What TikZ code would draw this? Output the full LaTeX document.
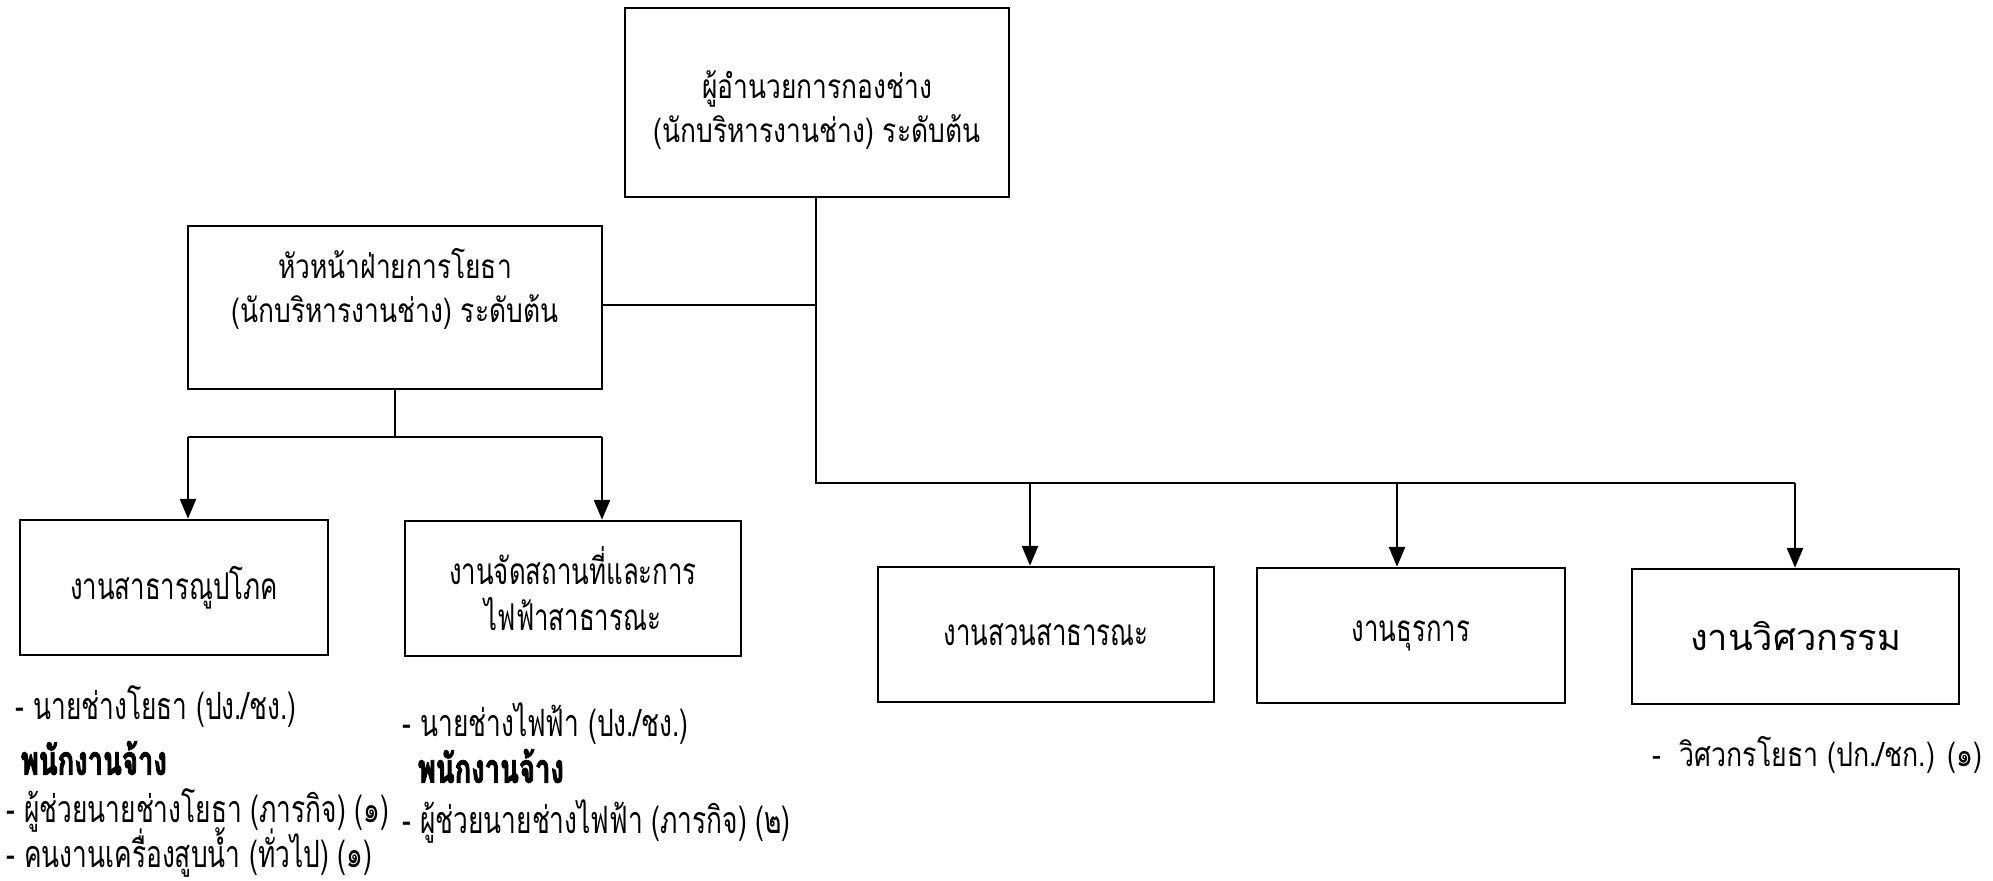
\documentclass[tikz,border=0pt]{standalone}
\usepackage{fontspec}
\usetikzlibrary{arrows.meta}
\newfontfamily\thaifont[Script=Thai]{Loma}
\newfontfamily\thaimid[Script=Thai,FakeStretch=0.79]{Loma}
\newfontfamily\thaiengnote[Script=Thai,FakeStretch=0.8]{Loma}
\newfontfamily\thainarrow[Script=Thai,FakeStretch=0.7]{Loma}
\newfontfamily\thaibold[Script=Thai,FakeStretch=0.68,FakeBold=2]{Loma}
\tikzset{
  box/.style={draw, line width=0.7pt, inner sep=0pt},
  conn/.style={line width=0.7pt},
  arr/.style={line width=0.8pt, -{Triangle[length=2mm,width=1.6mm]}},
  boxtext/.style={align=center, font=\thaimid\fontsize{9.5}{12.5}\selectfont},
  narrowtext/.style={align=center, font=\thainarrow\fontsize{10.5}{13}\selectfont},
  listtext/.style={anchor=west, inner sep=0pt, font=\thainarrow\fontsize{10.7}{12}\selectfont},
  boldtext/.style={anchor=west, inner sep=0pt, font=\thaibold\bfseries\fontsize{11.5}{12}\selectfont},
}
\begin{document}
\begin{tikzpicture}[x=1mm,y=-1mm]
\useasboundingbox (0,0) rectangle (199.3,88.0);
% boxes
\node[box, minimum width=38.4mm, minimum height=18.9mm] (top) at (81.7,10.25) {};
\node[boxtext] (toptext) at (81.7,11.0) {ผู้อำนวยการกองช่าง\\(นักบริหารงานช่าง) ระดับต้น};
\node[box, minimum width=41.4mm, minimum height=16.3mm] (head) at (39.5,30.75) {};
\node[boxtext] (headtext) at (39.5,28.9) {หัวหน้าฝ่ายการโยธา\\(นักบริหารงานช่าง) ระดับต้น};
\node[box, minimum width=30.8mm, minimum height=13.5mm, narrowtext] (util) at (17.4,58.75) {งานสาธารณูปโภค};
\node[box, minimum width=33.6mm, minimum height=13.5mm, narrowtext] (elec) at (57.3,58.85) {งานจัดสถานที่และการ\\ไฟฟ้าสาธารณะ};
\node[box, minimum width=33.6mm, minimum height=13.5mm, narrowtext] (park) at (104.6,63.45) {งานสวนสาธารณะ};
\node[box, minimum width=30.8mm, minimum height=13.5mm, narrowtext] (admin) at (141.1,63.55) {งานธุรการ};
\node[box, minimum width=32.7mm, minimum height=13.5mm, font=\thaifont\fontsize{10.3}{13}\selectfont] (eng) at (179.55,63.65) {งานวิศวกรรม};
% junction coordinates
\coordinate (hj) at (81.6,30.5);
\coordinate (mb) at (81.6,48.3);
\coordinate (b1) at (103.0,48.3);
\coordinate (b2) at (139.7,48.3);
\coordinate (b3) at (179.5,48.3);
\coordinate (hb) at (39.5,43.7);
\coordinate (l1) at (18.8,43.7);
\coordinate (l2) at (60.2,43.7);
% connectors
\draw[conn] (top.south -| hj) -- (mb) -- (b3);
\draw[conn] (head.east |- hj) -- (hj);
\draw[arr] (b1) -- (b1 |- park.north);
\draw[arr] (b2) -- (b2 |- admin.north);
\draw[arr] (b3) -- (b3 |- eng.north);
\draw[conn] (head.south -| hb) -- (hb);
\draw[conn] (l1) -- (l2);
\draw[arr] (l1) -- (l1 |- util.north);
\draw[arr] (l2) -- (l2 |- elec.north);
% lists
\node[listtext] (a1) at (1.5,70.7) {- นายช่างโยธา (ปง./ชง.)};
\node[boldtext] (a2) at (2.0,75.8) {พนักงานจ้าง};
\node[listtext] (a3) at (0.6,81.0) {- ผู้ช่วยนายช่างโยธา (ภารกิจ) (๑)};
\node[listtext] (a4) at (0.6,85.2) {- คนงานเครื่องสูบน้ำ (ทั่วไป) (๑)};
\node[listtext] (b1t) at (40.2,72.4) {- นายช่างไฟฟ้า (ปง./ชง.)};
\node[boldtext] (b2t) at (41.7,76.6) {พนักงานจ้าง};
\node[listtext] (b3t) at (40.2,82.1) {- ผู้ช่วยนายช่างไฟฟ้า (ภารกิจ) (๒)};
\node[listtext, font=\thaiengnote\fontsize{9.5}{12}\selectfont] (c1) at (165.2,75.5) {-\ \ วิศวกรโยธา (ปก./ชก.) (๑)};
\end{tikzpicture}
\end{document}
